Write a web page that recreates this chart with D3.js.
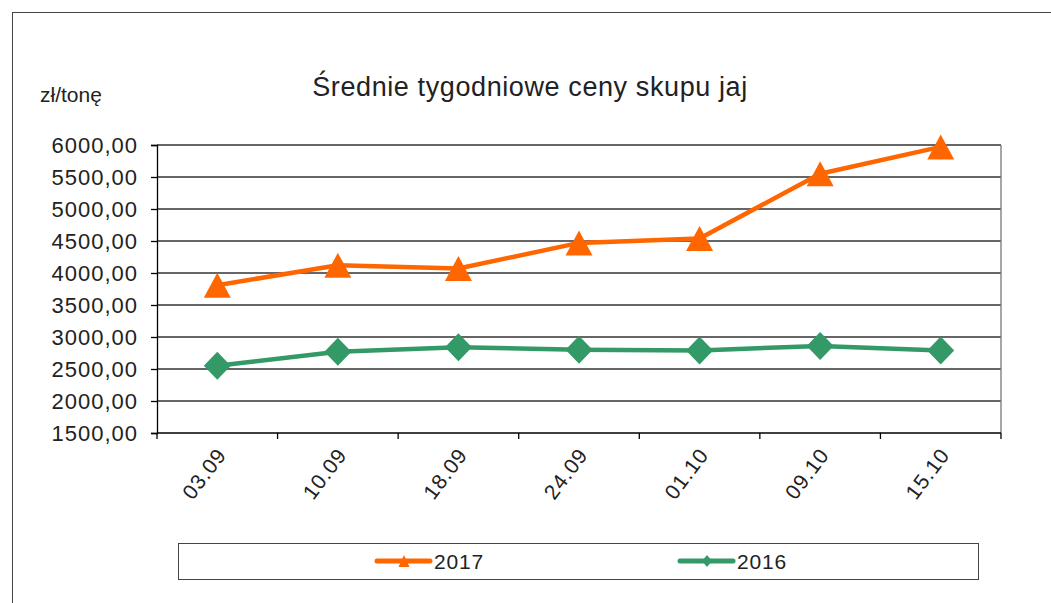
<!DOCTYPE html>
<html>
<head>
<meta charset="utf-8">
<script src="https://cdn.jsdelivr.net/npm/d3@7"></script>
<style>
  body { margin: 0; background: #fff; }
  svg { display: block; font-family: "Liberation Sans", Arial, sans-serif; }
</style>
</head>
<body>
<div id="chart"></div>
<script>
// Średnie tygodniowe ceny skupu jaj
const categories = ['03.09', '10.09', '18.09', '24.09', '01.10', '09.10', '15.10'];
const values2017 = [3810, 4120, 4070, 4470, 4540, 5550, 5970];
const values2016 = [2550, 2770, 2840, 2800, 2790, 2860, 2790];
const yTicks = [1500, 2000, 2500, 3000, 3500, 4000, 4500, 5000, 5500, 6000];

// marker shapes (width, height)
function triangle(w, h) {
    return `M0,${-h / 2}L${w / 2},${h / 2}L${-w / 2},${h / 2}Z`;
}
function diamond(w, h) {
    return `M0,${-h / 2}L${w / 2},0L0,${h / 2}L${-w / 2},0Z`;
}

const series = [
    { name: '2017', values: values2017, color: '#FF6600', shape: triangle },
    { name: '2016', values: values2016, color: '#339966', shape: diamond }
];

const width = 1051, height = 603;
const plot = { left: 157, right: 1001, top: 145, bottom: 433 };

const svg = d3.select('#chart').append('svg')
    .attr('width', width)
    .attr('height', height);

// outer frame
svg.append('rect')
    .attr('x', 12.5).attr('y', 12.5)
    .attr('width', width + 10).attr('height', height + 10)
    .attr('fill', 'none').attr('stroke', '#444').attr('stroke-width', 1);

const x = d3.scaleBand().domain(categories).range([plot.left, plot.right]);
const y = d3.scaleLinear().domain([1500, 6000]).range([plot.bottom, plot.top]);

// gridlines
svg.append('g')
    .selectAll('line')
    .data(yTicks.slice(1))
    .join('line')
    .attr('x1', plot.left).attr('x2', plot.right)
    .attr('y1', d => y(d)).attr('y2', d => y(d))
    .attr('stroke', '#333').attr('stroke-width', 1.3);

// right border of plot area
svg.append('line')
    .attr('x1', plot.right).attr('x2', plot.right)
    .attr('y1', plot.top).attr('y2', plot.bottom)
    .attr('stroke', '#777').attr('stroke-width', 1.3);

// y axis
const yAxis = svg.append('g')
    .attr('transform', `translate(${plot.left},0)`)
    .call(d3.axisLeft(y).tickValues(yTicks).tickSize(6).tickPadding(13)
        .tickFormat(d => d3.format('.2f')(d).replace('.', ',')));
yAxis.select('.domain').attr('stroke', '#000').attr('stroke-width', 1.3);
yAxis.selectAll('.tick line').attr('stroke', '#000').attr('stroke-width', 1.3);
yAxis.selectAll('.tick text')
    .attr('fill', '#222').style('font-size', '22px').style('letter-spacing', '1px');

// x axis with ticks at category boundaries
const xAxis = svg.append('g').attr('transform', `translate(0,${plot.bottom})`);
xAxis.append('line')
    .attr('x1', plot.left).attr('x2', plot.right)
    .attr('stroke', '#000').attr('stroke-width', 1.3);
const bounds = categories.map(c => x(c)).concat([plot.right]);
xAxis.selectAll('.xtick')
    .data(bounds)
    .join('line')
    .attr('class', 'xtick')
    .attr('x1', d => d).attr('x2', d => d)
    .attr('y1', 0).attr('y2', 6)
    .attr('stroke', '#000').attr('stroke-width', 1.3);
xAxis.selectAll('.xlabel')
    .data(categories)
    .join('text')
    .attr('class', 'xlabel')
    .attr('text-anchor', 'end')
    .attr('fill', '#222')
    .style('font-size', '21px')
    .style('letter-spacing', '1px')
    .attr('transform', d => `translate(${x(d) + x.bandwidth() / 2 + 10},${22}) rotate(-53)`)
    .text(d => d);

// lines and markers
const line = d3.line()
    .x((d, i) => x(categories[i]) + x.bandwidth() / 2)
    .y(d => y(d));

series.forEach(s => {
    svg.append('path')
        .datum(s.values)
        .attr('fill', 'none')
        .attr('stroke', s.color)
        .attr('stroke-width', 4.5)
        .attr('stroke-linejoin', 'round')
        .attr('d', line);

    svg.append('g')
        .selectAll('path')
        .data(s.values)
        .join('path')
        .attr('d', s.shape === triangle ? triangle(27, 25) : diamond(27, 28))
        .attr('fill', s.color)
        .attr('transform', (d, i) => `translate(${x(categories[i]) + x.bandwidth() / 2},${y(d)})`);
});

// title and unit label
svg.append('text')
    .attr('x', 530).attr('y', 96)
    .attr('text-anchor', 'middle')
    .attr('fill', '#222')
    .style('font-size', '27px')
    .style('letter-spacing', '0.6px')
    .text('Średnie tygodniowe ceny skupu jaj');

svg.append('text')
    .attr('x', 40).attr('y', 102)
    .attr('fill', '#222')
    .style('font-size', '21px')
    .text('zł/tonę');

// legend
const legend = svg.append('g');
legend.append('rect')
    .attr('x', 178.5).attr('y', 543.5)
    .attr('width', 800).attr('height', 36)
    .attr('fill', '#fff').attr('stroke', '#444').attr('stroke-width', 1);

const legendX = [377, 680];
series.forEach((s, i) => {
    const g = legend.append('g').attr('transform', `translate(${legendX[i]},561)`);
    g.append('line')
        .attr('x1', 0).attr('x2', 53)
        .attr('stroke', s.color).attr('stroke-width', 5).attr('stroke-linecap', 'round');
    g.append('path')
        .attr('d', s.shape === triangle ? triangle(11, 12) : diamond(10, 12))
        .attr('fill', s.color)
        .attr('transform', 'translate(27,0)');
    g.append('text')
        .attr('x', 57).attr('y', 8)
        .attr('fill', '#222')
        .style('font-size', '21px')
        .style('letter-spacing', '0.8px')
        .text(s.name);
});
</script>
</body>
</html>
